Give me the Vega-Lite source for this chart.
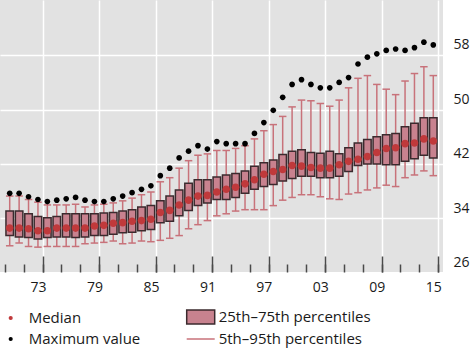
{
  "$schema": "https://vega.github.io/schema/vega-lite/v6.json",
  "width": 443,
  "height": 272,
  "autosize": "none",
  "padding": {"left": 0, "top": 0, "right": 30, "bottom": 78},
  "background": "white",
  "config": {
    "view": {"fill": "#e2e2e2", "stroke": null},
    "font": "Open Sans",
    "axis": {"labelFont": "Open Sans", "labelFontSize": 14, "labelColor": "#1a1a1a", "title": null},
    "legend": {
      "orient": "none", "legendX": 2.7, "legendY": 309, "columns": 2, "columnPadding": 43,
      "rowPadding": 4, "symbolSize": 196, "symbolStrokeWidth": 1.5, "labelFont": "Open Sans",
      "labelFontSize": 15, "labelColor": "#1a1a1a", "labelOffset": 10, "padding": 0, "symbolOpacity": 1
    }
  },
  "data": {"values": [
    {"year": 1970, "max": 36.2, "p95": 35.8, "p75": 33.6, "med": 31.1, "p25": 30.0, "p5": 28.5},
    {"year": 1971, "max": 36.2, "p95": 35.8, "p75": 33.6, "med": 31.1, "p25": 29.8, "p5": 28.9},
    {"year": 1972, "max": 35.7, "p95": 35.3, "p75": 33.2, "med": 31.0, "p25": 29.7, "p5": 28.4},
    {"year": 1973, "max": 35.3, "p95": 34.9, "p75": 32.8, "med": 30.7, "p25": 29.5, "p5": 28.3},
    {"year": 1974, "max": 35.0, "p95": 34.5, "p75": 32.6, "med": 30.7, "p25": 29.7, "p5": 28.4},
    {"year": 1975, "max": 35.2, "p95": 34.5, "p75": 32.8, "med": 31.1, "p25": 29.8, "p5": 28.4},
    {"year": 1976, "max": 35.4, "p95": 34.5, "p75": 33.2, "med": 31.1, "p25": 29.8, "p5": 28.4},
    {"year": 1977, "max": 35.6, "p95": 34.6, "p75": 33.2, "med": 31.1, "p25": 29.7, "p5": 28.4},
    {"year": 1978, "max": 35.2, "p95": 34.2, "p75": 33.2, "med": 31.1, "p25": 29.8, "p5": 28.8},
    {"year": 1979, "max": 35.0, "p95": 34.5, "p75": 33.2, "med": 31.4, "p25": 30.0, "p5": 28.9},
    {"year": 1980, "max": 35.0, "p95": 34.6, "p75": 33.3, "med": 31.5, "p25": 30.0, "p5": 29.0},
    {"year": 1981, "max": 35.4, "p95": 34.8, "p75": 33.4, "med": 31.8, "p25": 30.2, "p5": 29.2},
    {"year": 1982, "max": 35.8, "p95": 35.1, "p75": 33.6, "med": 31.9, "p25": 30.4, "p5": 28.8},
    {"year": 1983, "max": 36.3, "p95": 35.5, "p75": 33.8, "med": 32.1, "p25": 30.5, "p5": 28.9},
    {"year": 1984, "max": 36.8, "p95": 36.0, "p75": 34.2, "med": 32.2, "p25": 30.7, "p5": 29.2},
    {"year": 1985, "max": 37.3, "p95": 36.4, "p75": 34.4, "med": 32.4, "p25": 30.9, "p5": 29.1},
    {"year": 1986, "max": 38.8, "p95": 37.9, "p75": 35.1, "med": 33.4, "p25": 31.9, "p5": 29.3},
    {"year": 1987, "max": 39.9, "p95": 38.5, "p75": 35.8, "med": 33.7, "p25": 32.1, "p5": 29.6},
    {"year": 1988, "max": 41.4, "p95": 39.9, "p75": 36.7, "med": 34.5, "p25": 32.9, "p5": 30.0},
    {"year": 1989, "max": 42.4, "p95": 41.0, "p75": 37.7, "med": 35.2, "p25": 33.7, "p5": 31.0},
    {"year": 1990, "max": 43.2, "p95": 41.8, "p75": 38.2, "med": 35.8, "p25": 34.4, "p5": 31.6},
    {"year": 1991, "max": 42.7, "p95": 42.0, "p75": 38.2, "med": 35.9, "p25": 34.8, "p5": 32.2},
    {"year": 1992, "max": 43.8, "p95": 42.5, "p75": 38.6, "med": 36.4, "p25": 35.3, "p5": 32.9},
    {"year": 1993, "max": 43.5, "p95": 42.5, "p75": 38.9, "med": 36.8, "p25": 35.3, "p5": 33.2},
    {"year": 1994, "max": 43.5, "p95": 42.8, "p75": 39.1, "med": 37.1, "p25": 35.6, "p5": 33.6},
    {"year": 1995, "max": 43.5, "p95": 43.2, "p75": 39.5, "med": 37.6, "p25": 36.2, "p5": 33.8},
    {"year": 1996, "max": 45.0, "p95": 44.2, "p75": 40.2, "med": 38.2, "p25": 36.8, "p5": 33.8},
    {"year": 1997, "max": 46.6, "p95": 45.4, "p75": 40.7, "med": 39.0, "p25": 37.2, "p5": 33.8},
    {"year": 1998, "max": 48.4, "p95": 46.3, "p75": 41.1, "med": 39.4, "p25": 37.5, "p5": 34.4},
    {"year": 1999, "max": 50.3, "p95": 47.5, "p75": 41.9, "med": 39.7, "p25": 38.0, "p5": 35.2},
    {"year": 2000, "max": 52.2, "p95": 48.9, "p75": 42.4, "med": 40.3, "p25": 38.4, "p5": 35.6},
    {"year": 2001, "max": 52.9, "p95": 49.9, "p75": 42.6, "med": 40.2, "p25": 38.7, "p5": 36.0},
    {"year": 2002, "max": 52.2, "p95": 49.8, "p75": 42.2, "med": 40.0, "p25": 38.7, "p5": 36.0},
    {"year": 2003, "max": 51.7, "p95": 49.4, "p75": 42.1, "med": 39.9, "p25": 38.5, "p5": 35.7},
    {"year": 2004, "max": 51.7, "p95": 49.0, "p75": 42.4, "med": 39.9, "p25": 38.5, "p5": 35.4},
    {"year": 2005, "max": 52.5, "p95": 49.9, "p75": 42.0, "med": 40.4, "p25": 38.7, "p5": 35.3},
    {"year": 2006, "max": 53.2, "p95": 51.7, "p75": 42.9, "med": 40.9, "p25": 39.4, "p5": 36.1},
    {"year": 2007, "max": 55.2, "p95": 53.1, "p75": 43.6, "med": 41.2, "p25": 40.3, "p5": 36.3},
    {"year": 2008, "max": 56.2, "p95": 53.5, "p75": 44.1, "med": 41.6, "p25": 40.5, "p5": 36.7},
    {"year": 2009, "max": 56.7, "p95": 52.2, "p75": 44.5, "med": 42.2, "p25": 40.5, "p5": 37.0},
    {"year": 2010, "max": 57.2, "p95": 51.5, "p75": 44.8, "med": 42.8, "p25": 40.4, "p5": 37.4},
    {"year": 2011, "max": 57.4, "p95": 50.7, "p75": 45.0, "med": 42.9, "p25": 40.4, "p5": 37.2},
    {"year": 2012, "max": 57.2, "p95": 52.7, "p75": 46.0, "med": 43.5, "p25": 40.9, "p5": 38.5},
    {"year": 2013, "max": 57.6, "p95": 53.8, "p75": 46.5, "med": 43.6, "p25": 41.3, "p5": 38.9},
    {"year": 2014, "max": 58.4, "p95": 54.8, "p75": 47.3, "med": 44.2, "p25": 41.8, "p5": 39.5},
    {"year": 2015, "max": 58.0, "p95": 53.5, "p75": 47.3, "med": 43.9, "p25": 41.4, "p5": 38.8}
  ]},
  "resolve": {"axis": {"x": "independent", "y": "independent"}},
  "layer": [
    {
      "mark": {"type": "rule", "strokeWidth": 1.5},
      "encoding": {
        "x": {"field": "year", "type": "quantitative",
          "scale": {"domain": [1969.5, 2015.5], "nice": false, "zero": false},
          "axis": {"orient": "bottom", "values": [1969.5, 1971.5, 1973.5, 1975.5, 1977.5, 1979.5, 1981.5, 1983.5, 1985.5, 1987.5, 1989.5, 1991.5, 1993.5, 1995.5, 1997.5, 1999.5, 2001.5, 2003.5, 2005.5, 2007.5, 2009.5, 2011.5, 2013.5, 2015.5],
            "grid": false, "labels": false, "domain": false, "ticks": true, "tickSize": -8, "tickColor": "#4a4a4a", "tickWidth": 1.5}},
        "y": {"field": "p5", "type": "quantitative",
          "scale": {"domain": [24.65, 64.6], "nice": false, "zero": false},
          "axis": {"orient": "right", "values": [32.63, 40.55, 48.47, 56.53], "grid": true, "gridColor": "white", "gridWidth": 1.5, "gridOpacity": 1,
            "labels": false, "ticks": false, "domain": false}},
        "y2": {"field": "p95"},
        "stroke": {"datum": "5th–95th percentiles", "legend": {"title": null},
          "scale": {"domain": ["Median", "Maximum value", "25th–75th percentiles", "5th–95th percentiles"],
            "range": ["#c0393b", "#000000", "#3b2a2e", "#c8727a"]}}
      }
    },
    {
      "mark": {"type": "tick", "orient": "horizontal", "size": 7.5, "thickness": 1.5, "opacity": 1},
      "encoding": {
        "x": {"field": "year", "type": "quantitative", "scale": {"domain": [1969.5, 2015.5], "nice": false, "zero": false}, "axis": null},
        "y": {"field": "p95", "type": "quantitative", "scale": {"domain": [24.65, 64.6], "nice": false, "zero": false}, "axis": null},
        "color": {"value": "#c8727a"}
      }
    },
    {
      "mark": {"type": "tick", "orient": "horizontal", "size": 7.5, "thickness": 1.5, "opacity": 1},
      "encoding": {
        "x": {"field": "year", "type": "quantitative", "scale": {"domain": [1969.5, 2015.5], "nice": false, "zero": false}, "axis": null},
        "y": {"field": "p5", "type": "quantitative", "scale": {"domain": [24.65, 64.6], "nice": false, "zero": false}, "axis": null},
        "color": {"value": "#c8727a"}
      }
    },
    {
      "mark": {"type": "bar", "size": 7.5, "strokeWidth": 1.5, "opacity": 1},
      "encoding": {
        "x": {"field": "year", "type": "quantitative",
          "scale": {"domain": [1969.5, 2015.5], "nice": false, "zero": false},
          "axis": {"orient": "bottom", "values": [1973.5, 1979.5, 1985.5, 1991.5, 1997.5, 2003.5, 2009.5, 2015.5],
            "grid": true, "gridColor": "white", "gridWidth": 1.5, "gridOpacity": 1, "labels": false, "domain": false,
            "ticks": true, "tickSize": -16, "tickColor": "#4a4a4a", "tickWidth": 1.5}},
        "y": {"field": "p25", "type": "quantitative",
          "scale": {"domain": [24.65, 64.6], "nice": false, "zero": false},
          "axis": {"orient": "right", "values": [26, 34, 42, 50, 58], "grid": false, "ticks": false, "domain": false, "labelPadding": 10}},
        "y2": {"field": "p75"},
        "fill": {"datum": "25th–75th percentiles", "legend": {"title": null},
          "scale": {"domain": ["Median", "Maximum value", "25th–75th percentiles", "5th–95th percentiles"],
            "range": ["#c0393b", "#000000", "#c8828f", "transparent"]}},
        "stroke": {"datum": "25th–75th percentiles", "legend": {"title": null}}
      }
    },
    {
      "mark": {"type": "point", "filled": true, "size": 1600, "opacity": 1},
      "encoding": {
        "x": {"field": "year", "type": "quantitative", "scale": {"domain": [1969.5, 2015.5], "nice": false, "zero": false}, "axis": null},
        "y": {"field": "med", "type": "quantitative", "scale": {"domain": [24.65, 64.6], "nice": false, "zero": false}, "axis": null},
        "fill": {"datum": "Median", "legend": {"title": null}},
        "shape": {"datum": "Median", "legend": {"title": null},
          "scale": {"domain": ["Median", "Maximum value", "25th–75th percentiles", "5th–95th percentiles"],
            "range": ["M-0.19,0A0.19,0.19,0,1,1,0.19,0A0.19,0.19,0,1,1,-0.19,0Z", "M-0.19,0A0.19,0.19,0,1,1,0.19,0A0.19,0.19,0,1,1,-0.19,0Z", "M-2,-1H2V1H-2Z", "M-2,0H2"]}}
      }
    },
    {
      "mark": {"type": "point", "filled": true, "size": 900, "opacity": 1},
      "encoding": {
        "x": {"field": "year", "type": "quantitative",
          "scale": {"domain": [1969.5, 2015.5], "nice": false, "zero": false},
          "axis": {"orient": "bottom", "values": [1973, 1979, 1985, 1991, 1997, 2003, 2009, 2015], "grid": false, "ticks": false, "domain": false,
            "labelPadding": 8.5, "labelExpr": "slice(toString(datum.value), 2)"}},
        "y": {"field": "max", "type": "quantitative", "scale": {"domain": [24.65, 64.6], "nice": false, "zero": false}, "axis": null},
        "fill": {"datum": "Maximum value", "legend": {"title": null}},
        "shape": {"datum": "Maximum value", "legend": {"title": null}}
      }
    }
  ]
}
